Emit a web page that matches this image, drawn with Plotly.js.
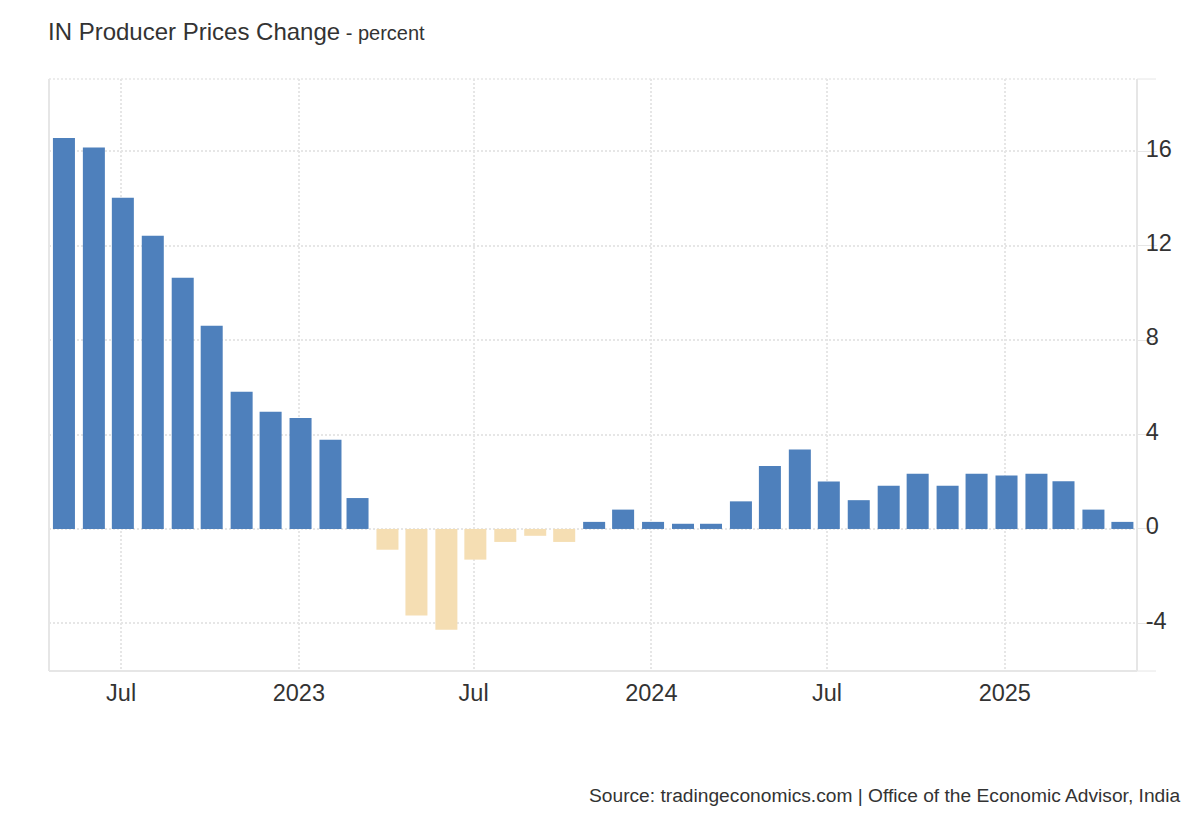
<!DOCTYPE html>
<html><head><meta charset="utf-8">
<script src="https://cdn.plot.ly/plotly-3.0.1.min.js"></script>
<style>html,body{margin:0;padding:0;background:#fff}</style></head>
<body><div id="chart" style="width:1200px;height:820px"></div>
<script>
const months = ["2022-05-01","2022-06-01","2022-07-01","2022-08-01","2022-09-01","2022-10-01","2022-11-01","2022-12-01",
"2023-01-01","2023-02-01","2023-03-01","2023-04-01","2023-05-01","2023-06-01","2023-07-01","2023-08-01","2023-09-01","2023-10-01","2023-11-01","2023-12-01",
"2024-01-01","2024-02-01","2024-03-01","2024-04-01","2024-05-01","2024-06-01","2024-07-01","2024-08-01","2024-09-01","2024-10-01","2024-11-01","2024-12-01",
"2025-01-01","2025-02-01","2025-03-01","2025-04-01","2025-05-01"];
const values = [16.57,16.17,14.04,12.43,10.65,8.61,5.82,4.97,4.7,3.78,1.31,-0.88,-3.67,-4.27,-1.3,-0.55,-0.29,-0.55,0.3,0.82,0.3,0.22,0.22,1.17,2.67,3.37,2.01,1.22,1.83,2.34,1.83,2.34,2.27,2.34,2.02,0.82,0.3];
const xTickVals = ["2022-07-01","2023-01-01","2023-07-01","2024-01-01","2024-07-01","2025-01-01"];
const xTickText = ["Jul","2023","Jul","2024","Jul","2025"];
const yTickVals = [-4,0,4,8,12,16];

const DAY = 86400000, GRID = "#e6e6e6", BLUE = "#4e80bc", BEIGE = "#f5deb3";
const font = "Arial, 'Liberation Sans', sans-serif";
const edge = (x0,x1,y0,y1,dash) => ({type:"line",xref:"paper",yref:"paper",x0,x1,y0,y1,layer:"below",
  line:{color:GRID,width:dash?1.5:2,dash:dash||"solid"}});

Plotly.newPlot("chart",[{
  type:"bar", x:months, y:values,
  width:22.8*DAY, offset:-9.6*DAY,
  marker:{color:values.map(v=>v<0?BEIGE:BLUE),line:{width:0}},
  hoverinfo:"x+y"
}],{
  width:1200,height:820,
  margin:{l:49,r:63,t:79,b:149,pad:0},
  paper_bgcolor:"#fff",plot_bgcolor:"#fff",
  showlegend:false,
  font:{family:font,color:"#333"},
  title:{text:"IN Producer Prices Change<span style='font-size:20px'> - percent</span>",
    x:48/1200,xanchor:"left",y:1-32/820,yanchor:"middle",font:{family:font,size:24,color:"#333"}},
  xaxis:{type:"date",range:["2022-04-17 08:00","2025-05-17 22:00"],
    tickmode:"array",tickvals:xTickVals,ticktext:xTickText,ticks:"",
    ticklabelstandoff:5,
    tickfont:{family:font,size:23.5,color:"#333"},
    showgrid:true,gridcolor:GRID,gridwidth:1.5,griddash:"2px,2px",
    showline:false,zeroline:false,fixedrange:true,tickangle:0},
  yaxis:{side:"right",range:[-6.02,19.07],
    tickmode:"array",tickvals:yTickVals,ticktext:yTickVals.map(String),
    ticks:"outside",ticklen:19,tickcolor:GRID,tickwidth:1,
    ticklabelstandoff:-16,ticklabelshift:-3,
    tickfont:{family:font,size:23.5,color:"#333"},
    showgrid:true,gridcolor:GRID,gridwidth:1.5,griddash:"2px,2px",
    showline:false,zeroline:false,fixedrange:true},
  shapes:[
    edge(0,0,0,1),
    edge(0,1,0,0),
    edge(1,1,0,1),
    edge(0,1,1,1,"2px,2px"),
    {type:"line",xref:"paper",yref:"paper",x0:1,x1:1+19/1088,y0:1,y1:1,line:{color:GRID,width:1}},
    {type:"line",xref:"paper",yref:"paper",x0:1,x1:1+19/1088,y0:0,y1:0,line:{color:GRID,width:1}}
  ],
  annotations:[{text:"Source: tradingeconomics.com | Office of the Economic Advisor, India",
    xref:"paper",yref:"paper",x:(1182.5-49)/1088,xanchor:"right",
    y:(671-795)/592,yanchor:"middle",showarrow:false,font:{family:font,size:19.2,color:"#333"}}]
},{displayModeBar:false,responsive:false});
</script></body></html>
